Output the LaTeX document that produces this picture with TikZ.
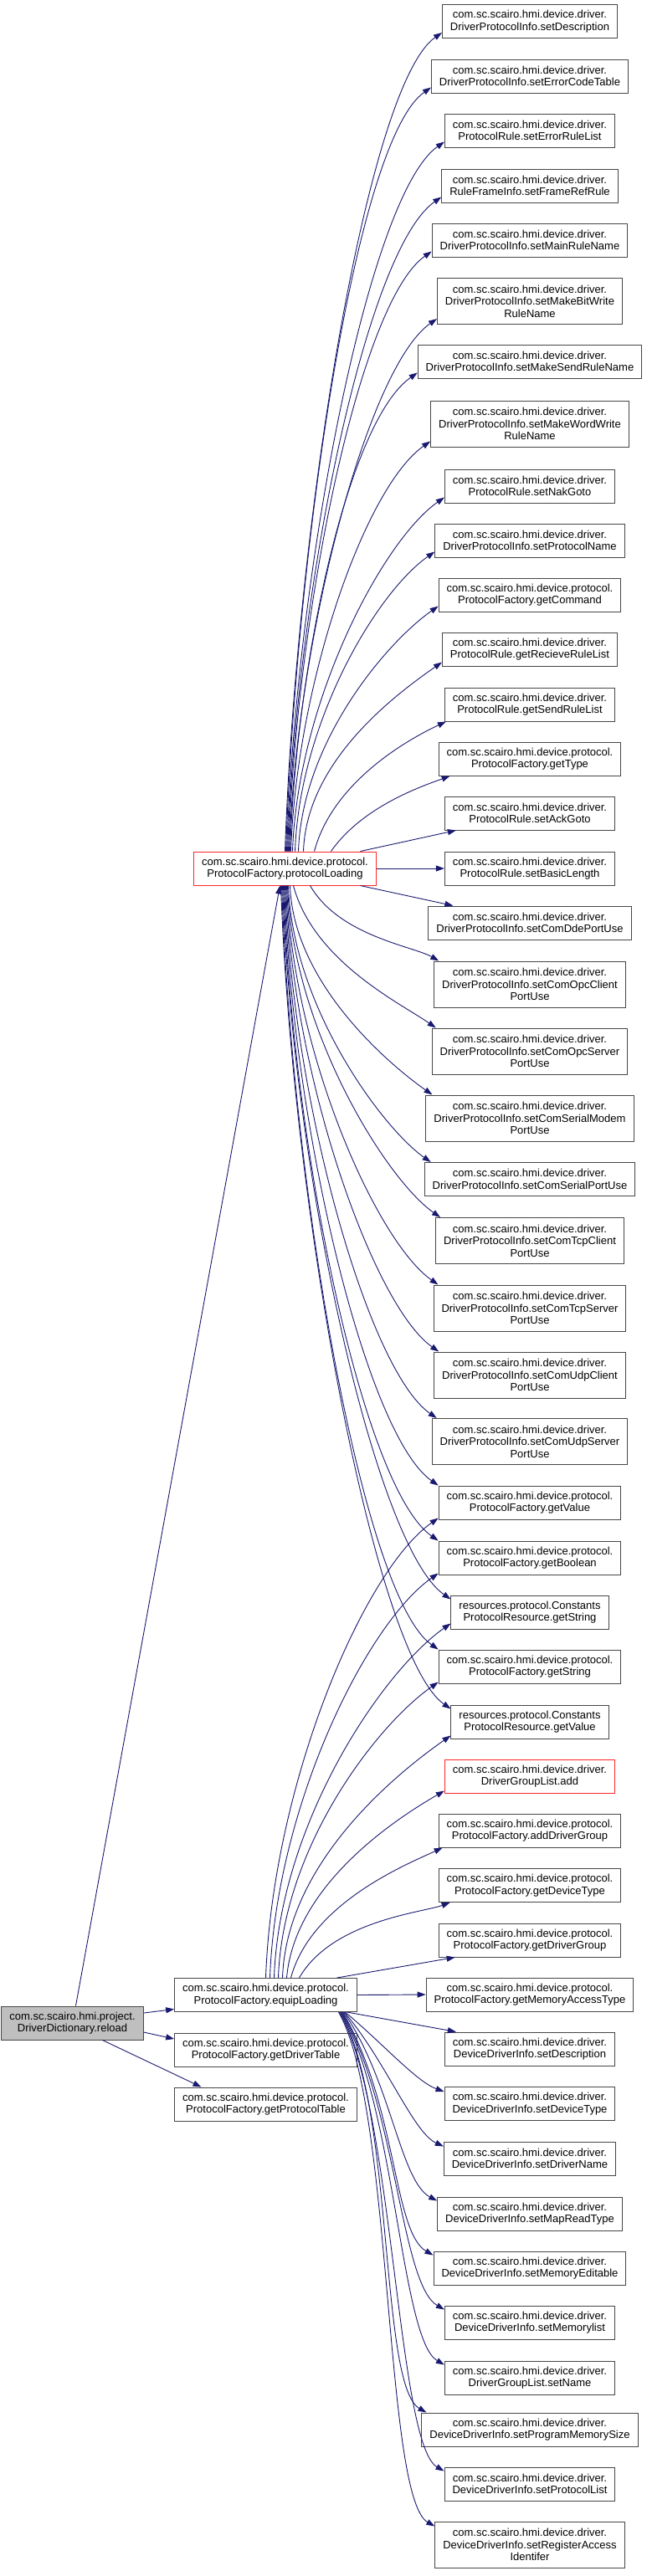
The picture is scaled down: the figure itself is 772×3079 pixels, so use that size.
\documentclass[tikz,border=0pt]{standalone}
\usepackage{fontspec}
\setmainfont{Liberation Sans}
\usetikzlibrary{arrows.meta}
\definecolor{callblue}{RGB}{25,25,112}
\definecolor{rootgray}{RGB}{191,191,191}

\begin{document}
\begin{tikzpicture}[
  x=1pt, y=1pt,
  box/.style={draw=black!72, fill=white, line width=1pt, align=center,
              inner xsep=9.5pt, inner ysep=2pt, minimum height=40pt,
              font=\fontsize{13}{14.5}\selectfont},
  tallbox/.style={box, minimum height=55pt},
  hot/.style={draw=red!85},
  root/.style={fill=rootgray},
  call/.style={-{Triangle[length=10pt,width=7pt]}, line width=0.9pt, draw=callblue, fill=none},
  callup/.style={out=88, in=215, in distance=#1},
  calldown/.style={out=-88, in=145, in distance=#1},
  callfan/.style={out=-60, in=150, out distance=130pt, in distance=#1},
]
  \useasboundingbox (0,0) rectangle (772,-3079);

  % callers
  \node[box, root] (reload) at (86.5,-2418) {com.sc.scairo.hmi.project.\\DriverDictionary.reload};
  \node[box, hot] (protoLoad) at (340.5,-1038) {com.sc.scairo.hmi.device.protocol.\\ProtocolFactory.protocolLoading};
  \node[box] (equipLoad) at (317.5,-2384.5) {com.sc.scairo.hmi.device.protocol.\\ProtocolFactory.equipLoading};
  \node[box] (drvTable) at (317.5,-2450) {com.sc.scairo.hmi.device.protocol.\\ProtocolFactory.getDriverTable};
  \node[box] (protoTable) at (317.5,-2515) {com.sc.scairo.hmi.device.protocol.\\ProtocolFactory.getProtocolTable};

  % callees
  \node[box] (dpiDesc) at (633,-25.5) {com.sc.scairo.hmi.device.driver.\\DriverProtocolInfo.setDescription};
  \node[box] (dpiErrCode) at (633,-91) {com.sc.scairo.hmi.device.driver.\\DriverProtocolInfo.setErrorCodeTable};
  \node[box] (prErrRule) at (633,-156) {com.sc.scairo.hmi.device.driver.\\ProtocolRule.setErrorRuleList};
  \node[box] (rfiFrameRef) at (633,-222) {com.sc.scairo.hmi.device.driver.\\RuleFrameInfo.setFrameRefRule};
  \node[box] (dpiMainRule) at (633,-287) {com.sc.scairo.hmi.device.driver.\\DriverProtocolInfo.setMainRuleName};
  \node[tallbox] (dpiBitWrite) at (633,-360) {com.sc.scairo.hmi.device.driver.\\DriverProtocolInfo.setMakeBitWrite\\RuleName};
  \node[box] (dpiSendRule) at (633,-432) {com.sc.scairo.hmi.device.driver.\\DriverProtocolInfo.setMakeSendRuleName};
  \node[tallbox] (dpiWordWrite) at (633,-506.5) {com.sc.scairo.hmi.device.driver.\\DriverProtocolInfo.setMakeWordWrite\\RuleName};
  \node[box] (prNakGoto) at (633,-581) {com.sc.scairo.hmi.device.driver.\\ProtocolRule.setNakGoto};
  \node[box] (dpiProtoName) at (633,-646) {com.sc.scairo.hmi.device.driver.\\DriverProtocolInfo.setProtocolName};
  \node[box] (pfCommand) at (633,-711) {com.sc.scairo.hmi.device.protocol.\\ProtocolFactory.getCommand};
  \node[box] (prRecvRule) at (633,-776) {com.sc.scairo.hmi.device.driver.\\ProtocolRule.getRecieveRuleList};
  \node[box] (prSendRule) at (633,-842) {com.sc.scairo.hmi.device.driver.\\ProtocolRule.getSendRuleList};
  \node[box] (pfType) at (633,-907) {com.sc.scairo.hmi.device.protocol.\\ProtocolFactory.getType};
  \node[box] (prAckGoto) at (633,-972) {com.sc.scairo.hmi.device.driver.\\ProtocolRule.setAckGoto};
  \node[box] (prBasicLen) at (633,-1038) {com.sc.scairo.hmi.device.driver.\\ProtocolRule.setBasicLength};
  \node[box] (dpiDde) at (633,-1103) {com.sc.scairo.hmi.device.driver.\\DriverProtocolInfo.setComDdePortUse};
  \node[tallbox] (dpiOpcClient) at (633,-1176.5) {com.sc.scairo.hmi.device.driver.\\DriverProtocolInfo.setComOpcClient\\PortUse};
  \node[tallbox] (dpiOpcServer) at (633,-1256.5) {com.sc.scairo.hmi.device.driver.\\DriverProtocolInfo.setComOpcServer\\PortUse};
  \node[tallbox] (dpiSerialModem) at (633,-1336.5) {com.sc.scairo.hmi.device.driver.\\DriverProtocolInfo.setComSerialModem\\PortUse};
  \node[box] (dpiSerial) at (633,-1409.5) {com.sc.scairo.hmi.device.driver.\\DriverProtocolInfo.setComSerialPortUse};
  \node[tallbox] (dpiTcpClient) at (633,-1483) {com.sc.scairo.hmi.device.driver.\\DriverProtocolInfo.setComTcpClient\\PortUse};
  \node[tallbox] (dpiTcpServer) at (633,-1563.5) {com.sc.scairo.hmi.device.driver.\\DriverProtocolInfo.setComTcpServer\\PortUse};
  \node[tallbox] (dpiUdpClient) at (633,-1643.5) {com.sc.scairo.hmi.device.driver.\\DriverProtocolInfo.setComUdpClient\\PortUse};
  \node[tallbox] (dpiUdpServer) at (633,-1723) {com.sc.scairo.hmi.device.driver.\\DriverProtocolInfo.setComUdpServer\\PortUse};
  \node[box] (pfValue) at (633,-1796) {com.sc.scairo.hmi.device.protocol.\\ProtocolFactory.getValue};
  \node[box] (pfBoolean) at (633,-1862) {com.sc.scairo.hmi.device.protocol.\\ProtocolFactory.getBoolean};
  \node[box] (resString) at (633,-1927) {resources.protocol.Constants\\ProtocolResource.getString};
  \node[box] (pfString) at (633,-1992) {com.sc.scairo.hmi.device.protocol.\\ProtocolFactory.getString};
  \node[box] (resValue) at (633,-2058) {resources.protocol.Constants\\ProtocolResource.getValue};
  \node[box, hot] (dglAdd) at (633,-2123) {com.sc.scairo.hmi.device.driver.\\DriverGroupList.add};
  \node[box] (pfAddGroup) at (633,-2188) {com.sc.scairo.hmi.device.protocol.\\ProtocolFactory.addDriverGroup};
  \node[box] (pfDevType) at (633,-2253.5) {com.sc.scairo.hmi.device.protocol.\\ProtocolFactory.getDeviceType};
  \node[box] (pfDrvGroup) at (633,-2319) {com.sc.scairo.hmi.device.protocol.\\ProtocolFactory.getDriverGroup};
  \node[box] (pfMemAccess) at (633,-2384) {com.sc.scairo.hmi.device.protocol.\\ProtocolFactory.getMemoryAccessType};
  \node[box] (ddiDesc) at (633,-2449) {com.sc.scairo.hmi.device.driver.\\DeviceDriverInfo.setDescription};
  \node[box] (ddiDevType) at (633,-2514.5) {com.sc.scairo.hmi.device.driver.\\DeviceDriverInfo.setDeviceType};
  \node[box] (ddiDrvName) at (633,-2580) {com.sc.scairo.hmi.device.driver.\\DeviceDriverInfo.setDriverName};
  \node[box] (ddiMapRead) at (633,-2646) {com.sc.scairo.hmi.device.driver.\\DeviceDriverInfo.setMapReadType};
  \node[box] (ddiMemEdit) at (633,-2711) {com.sc.scairo.hmi.device.driver.\\DeviceDriverInfo.setMemoryEditable};
  \node[box] (ddiMemList) at (633,-2776) {com.sc.scairo.hmi.device.driver.\\DeviceDriverInfo.setMemorylist};
  \node[box] (dglSetName) at (633,-2842) {com.sc.scairo.hmi.device.driver.\\DriverGroupList.setName};
  \node[box] (ddiProgMem) at (633,-2904) {com.sc.scairo.hmi.device.driver.\\DeviceDriverInfo.setProgramMemorySize};
  \node[box] (ddiProtoList) at (633,-2969) {com.sc.scairo.hmi.device.driver.\\DeviceDriverInfo.setProtocolList};
  \node[tallbox] (ddiRegAccess) at (633,-3041.5) {com.sc.scairo.hmi.device.driver.\\DeviceDriverInfo.setRegisterAccess\\Identifer};

  % reload
  \draw[call] ([xshift=4pt]reload.north) -- ([xshift=-6pt]protoLoad.south);
  \draw[call] ([yshift=12pt]reload.east) -- ([yshift=-17pt]equipLoad.west);
  \draw[call] ([yshift=-11pt]reload.east) -- ([yshift=13pt]drvTable.west);
  \draw[call] ([xshift=36pt]reload.south) -- ([xshift=-77pt]protoTable.north);

  % protocolLoading, upwards
  \draw[call] (protoLoad.north) to[callup=110pt] ([yshift=7pt]dpiDesc.south west);
  \draw[call] ([xshift=1pt]protoLoad.north) to[callup=110pt] ([yshift=7pt]dpiErrCode.south west);
  \draw[call] ([xshift=2pt]protoLoad.north) to[callup=110pt] ([yshift=7pt]prErrRule.south west);
  \draw[call] ([xshift=3pt]protoLoad.north) to[callup=110pt] ([yshift=7pt]rfiFrameRef.south west);
  \draw[call] ([xshift=4pt]protoLoad.north) to[callup=105pt] ([yshift=7pt]dpiMainRule.south west);
  \draw[call] ([xshift=5pt]protoLoad.north) to[callup=100pt] ([yshift=7pt]dpiBitWrite.south west);
  \draw[call] ([xshift=6pt]protoLoad.north) to[callup=100pt] ([yshift=7pt]dpiSendRule.south west);
  \draw[call] ([xshift=7pt]protoLoad.north) to[callup=95pt] ([yshift=7pt]dpiWordWrite.south west);
  \draw[call] ([xshift=9pt]protoLoad.north) to[callup=90pt] ([yshift=7pt]prNakGoto.south west);
  \draw[call] ([xshift=12pt]protoLoad.north) to[callup=85pt] ([yshift=7pt]dpiProtoName.south west);
  \draw[call] ([xshift=16pt]protoLoad.north) to[callup=75pt] ([yshift=7pt]pfCommand.south west);
  \draw[call] ([xshift=22pt]protoLoad.north) to[callup=65pt] ([yshift=5pt]prRecvRule.south west);
  \draw[call] ([xshift=35pt]protoLoad.north) to[out=75, in=205, in distance=50pt] ([xshift=2pt]prSendRule.south west);
  \draw[call] ([xshift=55pt]protoLoad.north) to[out=55, in=200, in distance=35pt] ([xshift=14pt]pfType.south west);
  \draw[call] ([xshift=90pt]protoLoad.north) -- ([xshift=14pt]prAckGoto.south west);
  \draw[call] (protoLoad.east) -- (prBasicLen.west);

  % protocolLoading, downwards
  \draw[call] ([xshift=90pt]protoLoad.south) -- ([xshift=30pt]dpiDde.north west);
  \draw[call] ([xshift=30pt]protoLoad.south) to[out=-60, in=150, in distance=35pt] ([xshift=6pt]dpiOpcClient.north west);
  \draw[call] ([xshift=10pt]protoLoad.south) to[out=-75, in=145, in distance=50pt] ([xshift=5pt]dpiOpcServer.north west);
  \draw[call] ([xshift=6pt]protoLoad.south) to[calldown=60pt] ([xshift=8pt]dpiSerialModem.north west);
  \draw[call] ([xshift=4pt]protoLoad.south) to[calldown=70pt] ([xshift=8pt]dpiSerial.north west);
  \draw[call] ([xshift=3pt]protoLoad.south) to[calldown=80pt] ([xshift=6pt]dpiTcpClient.north west);
  \draw[call] ([xshift=2pt]protoLoad.south) to[calldown=90pt] ([xshift=6pt]dpiTcpServer.north west);
  \draw[call] ([xshift=1pt]protoLoad.south) to[calldown=95pt] ([xshift=6pt]dpiUdpClient.north west);
  \draw[call] (protoLoad.south) to[calldown=100pt] ([xshift=6pt]dpiUdpServer.north west);
  \draw[call] ([xshift=-1pt]protoLoad.south) to[calldown=105pt] (pfValue.north west);
  \draw[call] ([xshift=-2pt]protoLoad.south) to[calldown=110pt] (pfBoolean.north west);
  \draw[call] ([xshift=-3pt]protoLoad.south) to[calldown=110pt] ([yshift=-5pt]resString.north west);
  \draw[call] ([xshift=-4pt]protoLoad.south) to[calldown=110pt] (pfString.north west);
  \draw[call] ([xshift=-5pt]protoLoad.south) to[calldown=110pt] ([yshift=-5pt]resValue.north west);

  % equipLoading, upwards
  \draw[call] (equipLoad.north) to[callup=110pt] ([yshift=2pt]pfValue.south west);
  \draw[call] ([xshift=5pt]equipLoad.north) to[callup=105pt] ([yshift=2pt]pfBoolean.south west);
  \draw[call] ([xshift=10pt]equipLoad.north) to[callup=100pt] ([yshift=7pt]resString.south west);
  \draw[call] ([xshift=15pt]equipLoad.north) to[callup=90pt] ([yshift=2pt]pfString.south west);
  \draw[call] ([xshift=20pt]equipLoad.north) to[callup=80pt] ([yshift=4pt]resValue.south west);
  \draw[call] ([xshift=25pt]equipLoad.north) to[out=85, in=210, in distance=60pt] ([yshift=3pt]dglAdd.south west);
  \draw[call] ([xshift=30pt]equipLoad.north) to[out=75, in=205, in distance=45pt] ([xshift=5pt]pfAddGroup.south west);
  \draw[call] ([xshift=40pt]equipLoad.north) to[out=60, in=200, in distance=35pt] ([xshift=14pt]pfDevType.south west);
  \draw[call] ([xshift=85pt]equipLoad.north) -- ([xshift=20pt]pfDrvGroup.south west);
  \draw[call] (equipLoad.east) -- (pfMemAccess.west);

  % equipLoading, downwards
  \draw[call] ([xshift=97pt]equipLoad.south) -- ([xshift=14pt]ddiDesc.north west);
  \draw[call] ([xshift=95pt]equipLoad.south) to[out=-40, in=160, in distance=35pt] ([yshift=-6pt]ddiDevType.north west);
  \draw[call] ([xshift=94pt]equipLoad.south) to[out=-50, in=155, in distance=40pt] ([yshift=-6pt]ddiDrvName.north west);
  \draw[call] ([xshift=93pt]equipLoad.south) to[out=-55, in=152, in distance=50pt] ([yshift=-5pt]ddiMapRead.north west);
  \draw[call] ([xshift=92pt]equipLoad.south) to[callfan=55pt] ([yshift=-5pt]ddiMemEdit.north west);
  \draw[call] ([xshift=91pt]equipLoad.south) to[callfan=60pt] ([yshift=-5pt]ddiMemList.north west);
  \draw[call] ([xshift=90pt]equipLoad.south) to[callfan=60pt] ([yshift=-5pt]dglSetName.north west);
  \draw[call] ([xshift=89pt]equipLoad.south) to[callfan=65pt] ([xshift=6pt]ddiProgMem.north west);
  \draw[call] ([xshift=88pt]equipLoad.south) to[callfan=65pt] ([yshift=-5pt]ddiProtoList.north west);
  \draw[call] ([xshift=87pt]equipLoad.south) to[callfan=70pt] ([yshift=-6pt]ddiRegAccess.north west);
\end{tikzpicture}
\end{document}
